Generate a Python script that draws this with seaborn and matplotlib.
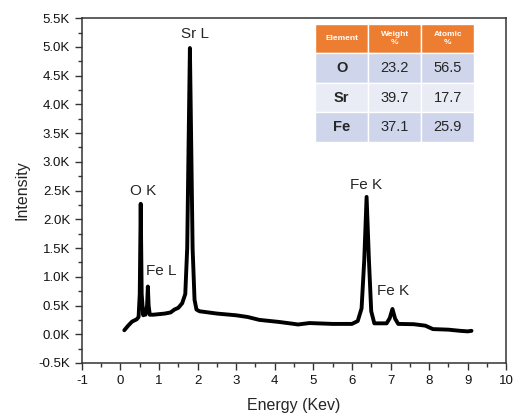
import numpy as np
import pandas as pd
import matplotlib
matplotlib.use("Agg")
import matplotlib.pyplot as plt
import seaborn as sns
from matplotlib.ticker import FuncFormatter, MultipleLocator

# EDS spectrum
energy = [0.10, 0.20, 0.30, 0.42, 0.47, 0.50, 0.525, 0.55, 0.59, 0.62, 0.65,
          0.69, 0.71, 0.73, 0.76, 0.85, 1.00, 1.15, 1.30, 1.40, 1.50, 1.60,
          1.68, 1.73, 1.77, 1.80, 1.83, 1.87, 1.92, 1.97, 2.05, 2.50, 3.00,
          3.30, 3.60, 4.10, 4.50, 4.60, 4.90, 5.50, 6.00, 6.15, 6.25, 6.32,
          6.38, 6.44, 6.50, 6.58, 6.90, 6.98, 7.05, 7.12, 7.20, 7.60, 7.90,
          8.10, 8.50, 8.80, 9.00, 9.10]
intensity = [70, 150, 220, 260, 300, 700, 2270, 700, 330, 400, 340,
             500, 830, 500, 340, 340, 350, 360, 380, 430, 460, 540,
             700, 1500, 3500, 4980, 3500, 1500, 600, 430, 400, 360, 330,
             300, 250, 215, 180, 170, 195, 180, 180, 230, 450, 1300,
             2390, 1300, 400, 190, 190, 280, 440, 270, 180, 175, 150,
             90, 80, 60, 50, 60]

# peak labels
peak_names = ["O K", "Fe L", "Sr L", "Fe K", "Fe K"]
peak_x = [0.58, 1.05, 1.93, 6.36, 7.06]
peak_y = [2490, 1100, 5230, 2590, 750]

# composition table
elements = ["O", "Sr", "Fe"]
weight_pct = ["23.2", "39.7", "37.1"]
atomic_pct = ["56.5", "17.7", "25.9"]

df = pd.DataFrame({"energy": energy, "intensity": intensity})

sns.set_style("ticks")
plt.rcParams["font.family"] = ["Liberation Sans", "DejaVu Sans"]
plt.rcParams["axes.unicode_minus"] = False

fig = plt.figure(figsize=(5.15, 4.17), dpi=100)
ax = fig.add_axes([0.159, 0.1295, 0.824, 0.827])

sns.lineplot(data=df, x="energy", y="intensity", color="black", linewidth=2.8,
             ax=ax, sort=False, solid_joinstyle="round", solid_capstyle="round")

ax.set_xlim(-1, 10)
ax.set_ylim(-500, 5500)
ax.xaxis.set_major_locator(MultipleLocator(1))
ax.xaxis.set_minor_locator(MultipleLocator(0.5))
ax.yaxis.set_major_locator(MultipleLocator(500))
ax.yaxis.set_minor_locator(MultipleLocator(250))
ax.yaxis.set_major_formatter(FuncFormatter(lambda v, p: f"{v/1000:.1f}K"))
ax.tick_params(which="major", direction="out", length=5, width=1, labelsize=9.5,
               color="#333333", labelcolor="#111111")
ax.tick_params(which="minor", direction="out", length=3, width=1, color="#333333")
for s in ax.spines.values():
    s.set_color("#333333")
    s.set_linewidth(1.1)

ax.set_xlabel("Energy (Kev)", fontsize=11.5, labelpad=8)
ax.set_ylabel("Intensity", fontsize=11.5, labelpad=6)

for name, x, y in zip(peak_names, peak_x, peak_y):
    ax.text(x, y, name, ha="center", va="center", fontsize=11)

# table
cells = [[e, w, a] for e, w, a in zip(elements, weight_pct, atomic_pct)]
tbl = ax.table(cellText=cells, colLabels=["Element", "Weight\n%", "Atomic\n%"],
               bbox=[0.55, 0.641, 0.375, 0.342], cellLoc="center")
tbl.auto_set_font_size(False)
row_colors = ["#CFD5EA", "#E9EBF5", "#CFD5EA"]
for (r, c), cell in tbl.get_celld().items():
    cell.set_edgecolor("white")
    cell.set_linewidth(1)
    if r == 0:
        cell.set_facecolor("#ED7D31")
        cell.get_text().set_color("white")
        cell.get_text().set_fontsize(6)
        cell.get_text().set_fontweight("bold")
    else:
        cell.set_facecolor(row_colors[r - 1])
        cell.get_text().set_fontsize(10.5)
        if c == 0:
            cell.get_text().set_fontweight("bold")

fig.savefig("out.png", dpi=100)
